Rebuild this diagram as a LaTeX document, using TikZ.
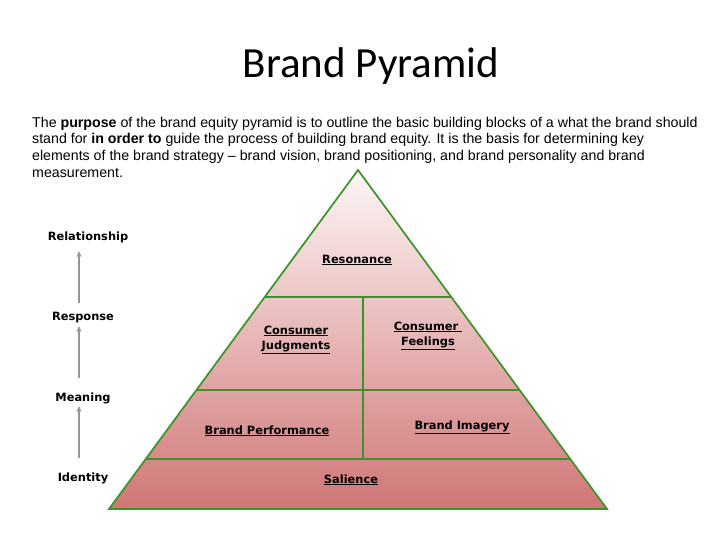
\documentclass[tikz,border=0pt]{standalone}
\usepackage{fontspec}
\setmainfont{Liberation Sans}
\newfontfamily\titlefont{Carlito}
\newfontfamily\labfont{DejaVu Sans}
\usetikzlibrary{arrows.meta}
\definecolor{pgreen}{RGB}{58,148,40}
\definecolor{ptop}{RGB}{253,246,246}
\definecolor{pbot}{RGB}{208,118,118}
\definecolor{agray}{RGB}{150,150,150}
\tikzset{
  lab/.style={anchor=base, inner sep=0pt, font=\labfont\bfseries\fontsize{11.4}{15}\selectfont, align=center},
  side/.style={anchor=base, inner sep=0pt, font=\labfont\bfseries\fontsize{11.4}{14}\selectfont},
  edge/.style={draw=pgreen, line width=1.7pt},
  up/.style={draw=agray, line width=1.4pt, -{Stealth[length=6pt,width=5pt]}}
}
\begin{document}
\begin{tikzpicture}[x=1pt,y=1pt]
\useasboundingbox (0,0) rectangle (728,-546);
\fill[white] (0,0) rectangle (728,-546);
% title
\node[anchor=base, inner sep=0pt, font=\titlefont\fontsize{43}{47}\selectfont] (title) at (371,-77) {Brand Pyramid};
% paragraph (anchor base = last line's baseline)
\node[anchor=base west, inner sep=0pt, align=left, font=\fontsize{14.2}{16.8}\selectfont] (para) at (32,-177.4)
{The \textbf{purpose} of the brand equity pyramid is to outline the basic building blocks of a what the brand should\\
stand for \textbf{in order to} guide the process of building brand equity. It is the basis for determining key\\
elements of the brand strategy -- brand vision, brand positioning, and brand personality and brand\\
measurement.};
% pyramid
\coordinate (A) at (358,-170);
\coordinate (BL) at (109,-509);
\coordinate (BR) at (607,-509);
\coordinate (L1) at (264.7,-297);
\coordinate (R1) at (451.3,-297);
\coordinate (L2) at (196.4,-390);
\coordinate (R2) at (519.6,-390);
\coordinate (L3) at (145.7,-459);
\coordinate (R3) at (570.3,-459);
\coordinate (V1) at (363,-297);
\coordinate (V2) at (363,-459);
\shade[top color=ptop, bottom color=pbot] (A) -- (BL) -- (BR) -- cycle;
\draw[edge] (L1) -- (R1);
\draw[edge] (L2) -- (R2);
\draw[edge] (L3) -- (R3);
\draw[edge] (V1) -- (V2);
\draw[edge, line join=miter] (A) -- (BL) -- (BR) -- cycle;
% pyramid labels
\node[lab] (res) at (357,-263) {\underline{Resonance}};
\node[lab] (cj) at (296,-349) {\underline{Consumer}\\[0pt]\underline{Judgments}};
\node[lab] (cf) at (428,-345) {\underline{Consumer\ }\\[0pt]\underline{Feelings}};
\node[lab] (bp) at (267,-434) {\underline{Brand Performance}};
\node[lab] (bi) at (462,-429) {\underline{Brand Imagery}};
\node[lab] (sal) at (351,-483) {\underline{Salience}};
% side labels
\node[side] (rel) at (88,-240) {Relationship};
\node[side] (rsp) at (83,-320) {Response};
\node[side] (mea) at (83,-401) {Meaning};
\node[side] (idn) at (83,-481) {Identity};
\coordinate (a1s) at (79,-458);
\coordinate (a1e) at (79,-406);
\coordinate (a2s) at (79,-378);
\coordinate (a2e) at (79,-326);
\coordinate (a3s) at (79,-303);
\coordinate (a3e) at (79,-251);
\draw[up] (a1s) -- (a1e);
\draw[up] (a2s) -- (a2e);
\draw[up] (a3s) -- (a3e);
\end{tikzpicture}
\end{document}
